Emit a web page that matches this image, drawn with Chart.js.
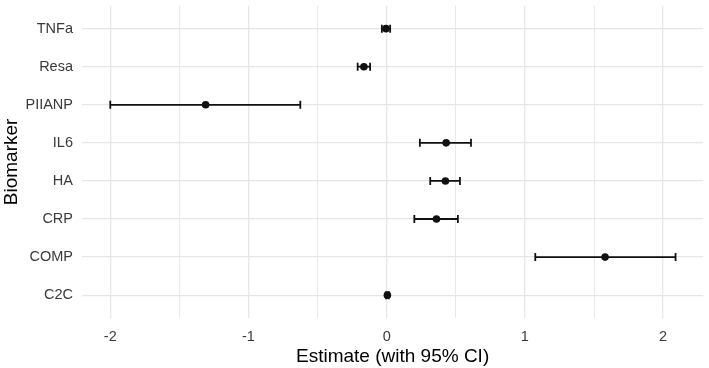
<!DOCTYPE html>
<html>
<head>
  <title>Biomarker estimates</title>
  <script src="https://cdn.jsdelivr.net/npm/chart.js@4/dist/chart.umd.min.js"></script>
  <style>
    body { margin: 0; background: #fff; }
    #wrap { width: 709px; height: 368px; }
  </style>
</head>
<body>
  <div id="wrap"><canvas id="forest" width="709" height="368"></canvas></div>

  <script>
    // biomarkers listed top to bottom
    var biomarkers = ['TNFa', 'Resa', 'PIIANP', 'IL6', 'HA', 'CRP', 'COMP', 'C2C'];
    var estimate = [-0.005, -0.165, -1.31, 0.43, 0.425, 0.36, 1.58, 0.005];
    var lower = [-0.035, -0.21, -2.0, 0.24, 0.315, 0.2, 1.075, -0.005];
    var upper = [0.025, -0.12, -0.625, 0.61, 0.53, 0.515, 2.09, 0.015];
    var xTicks = [-2, -1.5, -1, -0.5, 0, 0.5, 1, 1.5, 2];

    var ink = '#111111';
    var gridColor = '#e6e6e6';

    // one small line dataset per biomarker for the CI whiskers
    var datasets = biomarkers.map(function(name, i) {
      return {
        label: name + ' CI',
        data: [{ x: lower[i], y: i }, { x: upper[i], y: i }],
        showLine: true,
        borderColor: ink,
        borderWidth: 1.8,
        pointStyle: 'line',
        rotation: 90,
        pointRadius: 4,
        pointBorderWidth: 1.8,
        pointBorderColor: ink,
        order: 2
      };
    });

    datasets.push({
      label: 'Estimate',
      data: biomarkers.map(function(name, i) { return { x: estimate[i], y: i }; }),
      showLine: false,
      pointStyle: 'circle',
      pointRadius: 3.8,
      pointBorderWidth: 0,
      backgroundColor: ink,
      pointBackgroundColor: ink,
      order: 1
    });

    Chart.defaults.font.family = '"Liberation Sans", Arial, sans-serif';

    var ctx = document.getElementById('forest').getContext('2d');
    new Chart(ctx, {
      type: 'scatter',
      data: { datasets: datasets },
      options: {
        responsive: false,
        animation: false,
        events: [],
        layout: { padding: { top: 4, right: 3, bottom: 0, left: 0 } },
        plugins: {
          legend: { display: false },
          tooltip: { enabled: false }
        },
        scales: {
          x: {
            type: 'linear',
            min: -2.2045,
            max: 2.29,
            afterBuildTicks: function(scale) {
              scale.ticks = xTicks.map(function(v) { return { value: v }; });
            },
            afterFit: function(scale) {
              scale.height = 50;
              scale.paddingLeft = 0;
              scale.paddingRight = 0;
            },
            border: { display: false },
            grid: {
              color: gridColor,
              drawTicks: false,
              lineWidth: function(c) { return Number.isInteger(c.tick.value) ? 1.3 : 0.9; }
            },
            ticks: {
              padding: 10,
              color: '#3a3a3a',
              font: { size: 14.5 },
              callback: function(v) { return Number.isInteger(v) ? String(v) : ''; }
            },
            title: {
              display: true,
              text: 'Estimate (with 95% CI)',
              color: '#000',
              font: { size: 19 },
              padding: { top: 2, bottom: 0 }
            }
          },
          y: {
            type: 'linear',
            reverse: true,
            min: -0.6,
            max: biomarkers.length - 1 + 0.6,
            afterBuildTicks: function(scale) {
              scale.ticks = biomarkers.map(function(n, i) { return { value: i }; });
            },
            afterFit: function(scale) {
              scale.width = 82;
              scale.paddingTop = 0;
              scale.paddingBottom = 0;
            },
            border: { display: false },
            grid: { color: gridColor, lineWidth: 1.3, drawTicks: false },
            ticks: {
              padding: 9,
              color: '#3a3a3a',
              font: { size: 14.5 },
              callback: function(v) { return biomarkers[v]; }
            },
            title: {
              display: true,
              text: 'Biomarker',
              color: '#000',
              font: { size: 19 },
              padding: { top: 0, bottom: 0 }
            }
          }
        }
      }
    });
  </script>
</body>
</html>
